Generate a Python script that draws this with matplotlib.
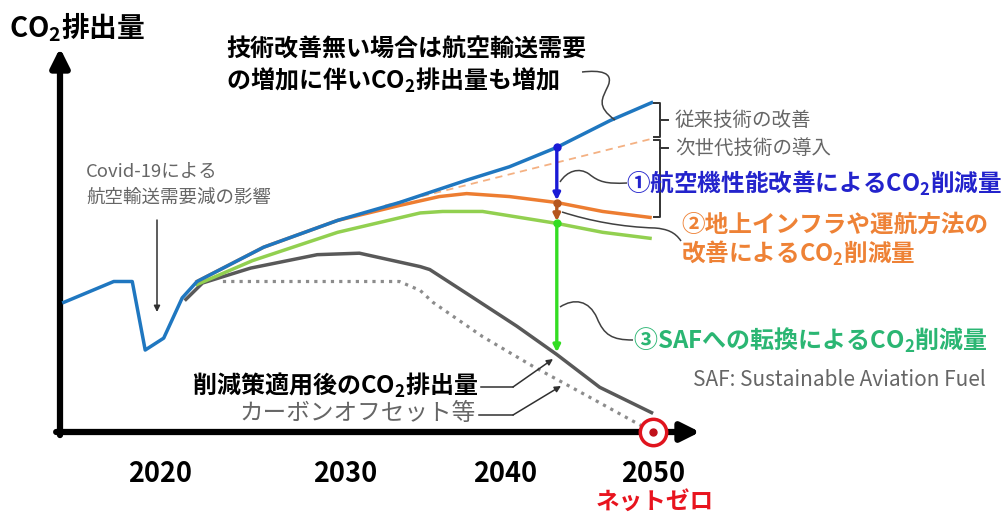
import matplotlib
matplotlib.use("Agg")
import matplotlib.pyplot as plt
import numpy as np
from matplotlib.path import Path
from matplotlib.patches import PathPatch

plt.rcParams["font.family"] = ["Noto Sans CJK JP", "DejaVu Sans"]
plt.rcParams["mathtext.default"] = "regular"

# ---- data (schematic emission index, 2019 level ~ 100) ----
bau_years = [2014.8, 2017.5, 2018.5, 2019.2, 2020.2, 2021.2, 2022.0, 2025.6,
             2029.6, 2033.4, 2037.6, 2040.3, 2043.5, 2047.1, 2049.9]
bau_vals = [87, 101, 101, 55, 63, 90, 101, 124, 142, 154, 169, 178, 191, 209, 221]

next_gen_years = [2032.5, 2050.0]
next_gen_vals = [152, 197]

tech_years = [2022.0, 2025.6, 2029.6, 2033.4, 2035.9, 2037.6, 2040.3, 2043.5,
              2046.6, 2049.8]
tech_vals = [101, 124, 142, 152, 158, 160, 158, 154, 148, 144]

ops_years = [2022.0, 2025.0, 2029.6, 2034.7, 2036.1, 2038.6, 2043.5, 2046.6, 2049.8]
ops_vals = [99, 115, 134, 147, 148, 148, 140, 134, 130]

saf_years = [2021.4, 2022.3, 2024.9, 2028.5, 2030.9, 2034.7, 2035.3, 2037.6,
             2040.8, 2043.5, 2046.4, 2049.9]
saf_vals = [89, 100, 110, 119, 120, 111, 109, 93, 71, 52, 30, 13]

offset_years = [2023.4, 2033.4, 2034.7, 2035.5, 2038.6, 2041.9, 2045.6, 2048.7, 2050.0]
offset_vals = [101, 101, 95, 87, 64, 44, 24, 7, 0]

tick_years = [2020, 2030, 2040, 2050]
step_year = 2043.5
net_zero_year = 2050

# ---- colours ----
c_blue = "#1f77c0"
c_orange = "#ed7d31"
c_green = "#92d050"
c_dark = "#595959"
c_dot = "#8c8c8c"
c_text_gray = "#666666"

# piecewise year axis as drawn in the schematic
yr_anchor = [1990, 2020, 2030, 2040, 2050, 2080]
px_anchor = [-395, 160, 345, 505, 653, 1097]


def fwd(x):
    return np.interp(x, yr_anchor, px_anchor)


def inv(p):
    return np.interp(p, px_anchor, yr_anchor)


W, H = 1006, 516
fig = plt.figure(figsize=(W / 100, H / 100), dpi=100)
ax = fig.add_axes([60 / W, 1 - 432 / H, 640 / W, 384 / H], zorder=1)
ax.set_xscale("function", functions=(fwd, inv))
ax.set_xlim(inv(60), inv(700))
ax.set_ylim(0, 257.7)
ax.patch.set_alpha(0)
for s in ax.spines.values():
    s.set_visible(False)
ax.set_yticks([])
ax.set_xticks(tick_years)
ax.set_xticklabels([str(y) for y in tick_years], fontsize=19.5, fontweight="bold")
ax.xaxis.set_minor_locator(matplotlib.ticker.NullLocator())
ax.tick_params(axis="x", length=0, pad=20)

# axis arrows
arrow_kw = dict(arrowstyle="-|>", color="black", lw=4.5, mutation_scale=28,
                shrinkA=0, shrinkB=0)
ax.annotate("", xy=(1.0, 0), xytext=(-0.006, 0), xycoords="axes fraction",
            arrowprops=arrow_kw, annotation_clip=False)
ax.annotate("", xy=(0, 1.0), xytext=(0, -0.008), xycoords="axes fraction",
            arrowprops=arrow_kw, annotation_clip=False)

# curves
ax.plot(next_gen_years, next_gen_vals, color="#f4b183", lw=1.3, ls=(0, (4, 3)), zorder=2)
ax.plot(offset_years, offset_vals, color=c_dot, lw=2.3, ls=(0, (1, 1.6)), zorder=2)
ax.plot(saf_years, saf_vals, color=c_dark, lw=2.5, zorder=3)
ax.plot(ops_years, ops_vals, color=c_green, lw=2.5, zorder=3)
ax.plot(tech_years, tech_vals, color=c_orange, lw=2.5, zorder=4)
ax.plot(bau_years, bau_vals, color=c_blue, lw=2.5, zorder=5)

# reduction steps at one year
v_bau = np.interp(step_year, bau_years, bau_vals)
v_tech = np.interp(step_year, tech_years, tech_vals)
v_ops = np.interp(step_year, ops_years, ops_vals)
v_saf = np.interp(step_year, saf_years, saf_vals)
steps = [(v_bau, v_tech, "#1a1ad6"), (v_tech, v_ops, "#b5561e"), (v_ops, v_saf, "#33dd22")]
for top, bot, col in steps:
    ax.annotate("", xy=(step_year, bot + 1.5), xytext=(step_year, top),
                arrowprops=dict(arrowstyle="-|>", color=col, lw=2.4, mutation_scale=10,
                                shrinkA=0, shrinkB=0), zorder=6)
    ax.plot([step_year], [top], "o", color=col, ms=5, zorder=7)

# net zero target
ax.plot([net_zero_year], [0], "o", ms=19, mfc="white", mec="#e0141e", mew=2.5,
        clip_on=False, zorder=8)
ax.plot([net_zero_year], [0], "o", ms=5, color="#c0101a", clip_on=False, zorder=9)

# ---- overlay in pixel coordinates for labels and leaders ----
ov = fig.add_axes([0, 0, 1, 1], zorder=2)
ov.set_xlim(0, W)
ov.set_ylim(H, 0)
ov.axis("off")
ov.patch.set_alpha(0)


def curve(points, color="#404040", lw=1.1):
    codes = [Path.MOVETO] + [Path.CURVE4] * (len(points) - 1)
    ov.add_patch(PathPatch(Path(points, codes), fc="none", ec=color, lw=lw))


def txt(x, y, s, size, color="black", bold=False, ha="left"):
    ov.text(x, y, s, fontsize=size, color=color, ha=ha, va="center",
            fontweight="bold" if bold else "normal")


txt(9, 27, "CO$_2$排出量", 20, bold=True)
txt(226, 50, "技術改善無い場合は航空輸送需要", 17.3, bold=True)
txt(226, 80, "の増加に伴いCO$_2$排出量も増加", 17.3, bold=True)
txt(86, 172, "Covid-19による", 13.3, c_text_gray)
txt(86, 198, "航空輸送需要減の影響", 13.3, c_text_gray)
txt(675, 120, "従来技術の改善", 14, c_text_gray)
txt(675, 148, "次世代技術の導入", 14, c_text_gray)
txt(626, 183, "①航空機性能改善によるCO$_2$削減量", 17, "#2323cc", bold=True)
txt(681, 225, "②地上インフラや運航方法の", 17, "#ee8236", bold=True)
txt(681, 253, "改善によるCO$_2$削減量", 17, "#ee8236", bold=True)
txt(633, 340, "③SAFへの転換によるCO$_2$削減量", 17.3, "#2bb673", bold=True)
txt(986, 380, "SAF: Sustainable Aviation Fuel", 15, c_text_gray, ha="right")
txt(478, 385, "削減策適用後のCO$_2$排出量", 17.3, bold=True, ha="right")
txt(476, 413, "カーボンオフセット等", 17, c_text_gray, ha="right")
txt(655, 502, "ネットゼロ", 17, "#e8141e", bold=True, ha="center")

# leaders
curve([(582, 72), (600, 70), (614, 72), (608, 86), (602, 99), (596, 106), (615, 120)])
curve([(560, 182), (567, 171), (579, 167), (589, 174), (599, 182), (606, 184), (627, 183)])
curve([(562, 212), (590, 221), (622, 227), (655, 228), (667, 229), (675, 232), (681, 241)])
curve([(560, 307), (574, 298), (589, 300), (597, 318), (604, 335), (612, 340), (633, 340)])

# brackets
for y0, y1, ym in [(103, 137, 120), (140, 217, 148)]:
    ov.plot([654, 660, 660, 654], [y0, y0, y1, y1], color="#333333", lw=1.4)
    ov.plot([660, 668], [ym, ym], color="#333333", lw=1.4)

# small arrows to the bottom curves
small = dict(arrowstyle="-|>", color="#303030", lw=1.1, mutation_scale=9,
             shrinkA=0, shrinkB=0)
ov.plot([481, 513], [387, 387], color="#303030", lw=1.1)
ov.annotate("", xy=(553, 359), xytext=(513, 387), arrowprops=small)
ov.plot([479, 513], [415, 415], color="#303030", lw=1.1)
ov.annotate("", xy=(561, 386), xytext=(513, 415), arrowprops=small)
ov.annotate("", xy=(157, 312), xytext=(157, 220), arrowprops=small)

fig.savefig("out.png", dpi=100)
